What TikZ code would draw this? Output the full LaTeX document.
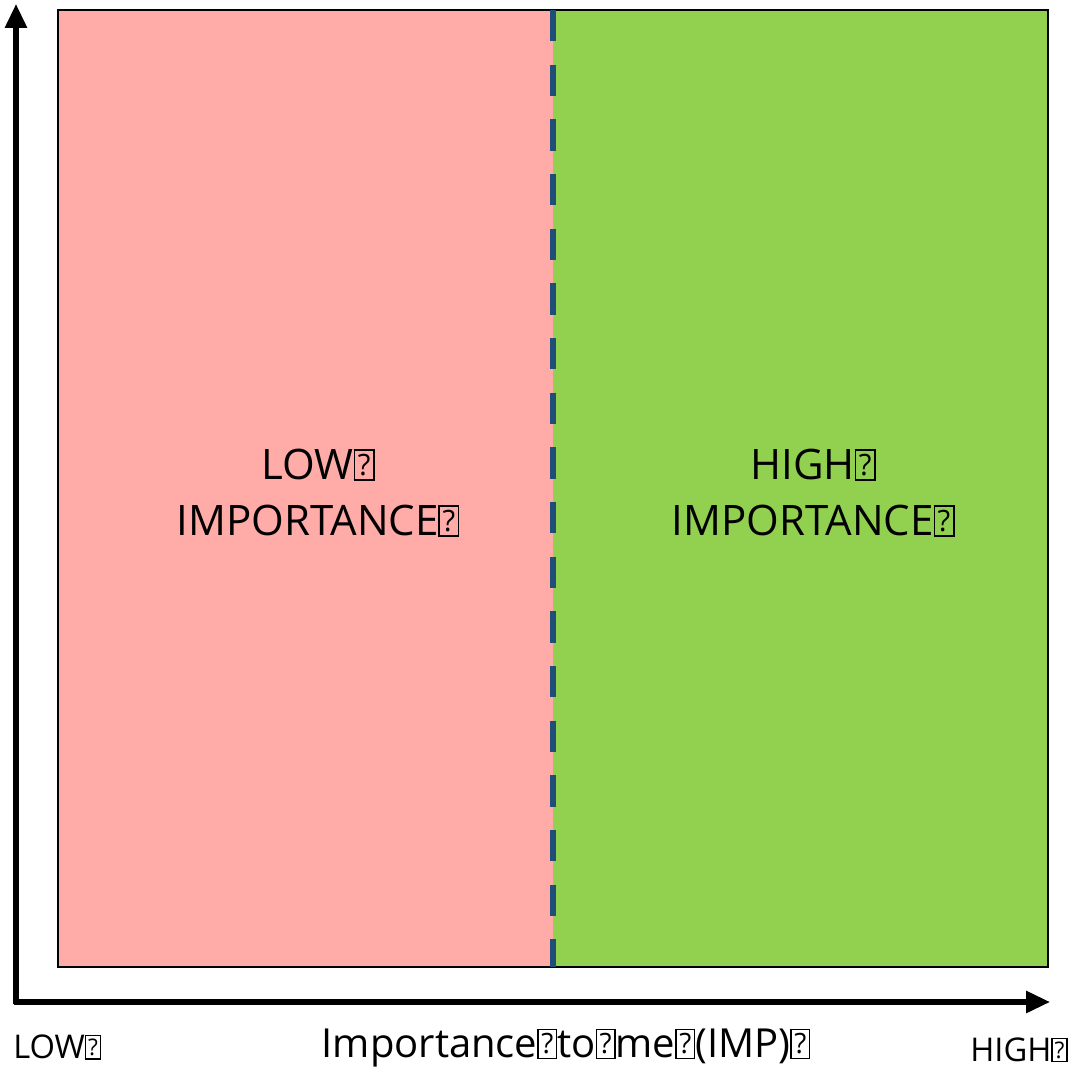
\documentclass[tikz,border=0pt]{standalone}
\usepackage{fontspec}
\usepackage{graphicx}
\setmainfont{Open Sans}
\usetikzlibrary{arrows.meta}

\definecolor{lowfill}{HTML}{FFABA8}
\definecolor{highfill}{HTML}{92D050}
\definecolor{divider}{HTML}{1F4E79}

% boxed question mark used as a placeholder character
\newcommand\qbox{{\fboxsep=0pt\fboxrule=0.04em\fbox{\parbox[b][0.68em][c]{0.42em}{\centering\scalebox{0.7}{?}}}}}

\tikzset{
  zone/.style={draw=black, line width=1.5pt},
  axis/.style={line width=3.8pt, -{Triangle[length=18pt,width=16pt]}},
  zonelabel/.style={font=\fontsize{31.5}{40}\selectfont, align=center, inner sep=0pt},
  ticklabel/.style={font=\fontsize{24.5}{28}\selectfont, inner sep=0pt},
  axistitle/.style={font=\fontsize{30}{36}\selectfont, inner sep=0pt},
}

\begin{document}
\begin{tikzpicture}[x=0.75pt, y=-0.75pt]
  \useasboundingbox (0,0) rectangle (1072,1074);

  % the two regions
  \fill[lowfill] (58,10) rectangle (553,967);
  \fill[highfill] (553,10) rectangle (1048,967);
  \node[zone, minimum width=990*0.75pt, minimum height=957*0.75pt, inner sep=0pt] (frame) at (553,488.5) {};

  % dividing line
  \coordinate (dtop) at (553,10);
  \coordinate (dbot) at (553,967);
  \draw[divider, line width=5pt, dash pattern=on 23.5pt off 17.5pt] (dtop) -- (dbot);

  % axes
  \coordinate (origin) at (16,1002);
  \coordinate (ytip) at (16,4);
  \coordinate (xtip) at (1050,1002);
  \draw[axis] (origin) ++(0,2) -- (ytip);
  \draw[axis] (origin) ++(-2,0) -- (xtip);

  % region labels
  \node[zonelabel] (low) at (318,493) {LOW\qbox\\[2pt]IMPORTANCE\qbox};
  \node[zonelabel] (high) at (813,493) {HIGH\qbox\\[2pt]IMPORTANCE\qbox};

  % axis labels
  \node[ticklabel, anchor=west] (lowend) at (13,1047) {LOW\qbox};
  \node[ticklabel, anchor=east] (highend) at (1068,1050) {HIGH\qbox};
  \node[axistitle] (title) at (566,1048) {Importance\qbox to\qbox me\qbox(IMP)\qbox};
\end{tikzpicture}
\end{document}
